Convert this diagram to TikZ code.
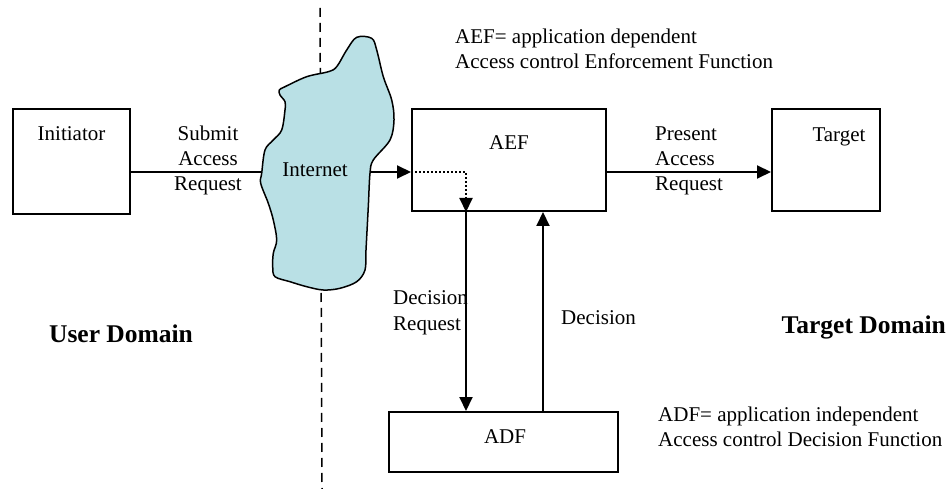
\documentclass[tikz,border=0pt]{standalone}
\usepackage{fontspec}
\setmainfont{Liberation Serif}
\usepackage{xcolor}
\usetikzlibrary{arrows.meta}

\definecolor{cloudblue}{RGB}{185,224,229}

\tikzset{
  box/.style={draw,line width=2pt,inner sep=0pt},
  lbl/.style={inner sep=0pt,font=\fontsize{21}{25}\selectfont},
  domlbl/.style={inner sep=0pt,font=\fontsize{25.5}{30}\selectfont\bfseries},
  flow/.style={line width=2pt,-{Triangle[length=14pt,width=13pt]}},
}

\begin{document}
\begin{tikzpicture}[x=1pt,y=-1pt]
\useasboundingbox (0,0) rectangle (948,489);

% domain border
\draw[line width=1.5pt,dash pattern=on 9pt off 6pt] (320,8) -- (322,489);

% the internet
\draw[line width=1.5pt,fill=cloudblue] plot[smooth cycle,tension=0.55] coordinates {
  (356.7,37.3) (371.7,38.3) (376.7,50) (383.3,76.7) (391.7,100) (394,120)
  (390,140) (373.3,160) (370,173.3) (368.3,206.7) (366,250) (365,270)
  (356.7,281.7) (340,288.3) (323.3,290) (306.7,286.7) (290,281.7) (275,276.7)
  (272.7,266.7) (273.3,253.3) (276.7,240) (273.3,220) (268.3,203.3) (260.7,183.3)
  (261.7,173.3) (265,150) (273.3,140) (281.7,130) (285,110) (285,101.7)
  (280,95) (279.3,90) (285,86.7) (306.7,76.7) (328.3,71.7) (336.7,66.7) (346.7,50)};
\coordinate (cl) at (262,172);
\coordinate (cr) at (370,172);
\node[lbl,anchor=base] (net) at (315,176.5) {Internet};

% boxes
\node[box,minimum width=117pt,minimum height=105pt] (init) at (71.5,161.5) {};
\node[box,minimum width=194pt,minimum height=102pt] (aef) at (509,160) {};
\node[box,minimum width=108pt,minimum height=102pt] (target) at (826,160) {};
\node[box,minimum width=229pt,minimum height=60pt] (adf) at (503.5,442) {};

\node[lbl,anchor=base] (inittext) at (71.5,141) {Initiator};
\node[lbl,anchor=base] (aeftext) at (509,150) {AEF};
\node[lbl,anchor=base] (targettext) at (839,141.5) {Target};
\node[lbl,anchor=base] (adftext) at (505,443) {ADF};

% connectors
\coordinate (dr) at (466,172);
\coordinate (dc) at (543,300);
\draw[line width=2pt] (init.east |- cl) -- (cl);
\draw[flow] (cr) -- (cr -| aef.west);
\draw[flow,dotted] (cr -| aef.west) -- (dr) -- (dr |- aef.south);
\draw[flow] (dr |- aef.south) -- (dr |- adf.north);
\draw[flow] (dc |- adf.north) -- (dc |- aef.south);
\draw[flow] (aef.east |- cr) -- (target.west |- cr);

% labels (base = last line)
\node[lbl,anchor=base,align=center] (submit) at (208,190.5) {Submit\\Access\\Request};
\node[lbl,anchor=base west,align=left] (present) at (655,190.5) {Present\\Access\\Request};
\node[lbl,anchor=base west,align=left] (decreq) at (393,330) {Decision\\Request};
\node[lbl,anchor=base west] (dec) at (561,324) {Decision};
\node[lbl,anchor=base west,align=left] (aefnote) at (455,69) {AEF= application dependent\\Access control Enforcement Function};
\node[lbl,anchor=base west,align=left] (adfnote) at (658,446) {ADF= application independent\\Access control Decision Function};
\node[domlbl,anchor=base] (user) at (121,342) {User Domain};
\node[domlbl,anchor=base east] (tdom) at (946,333) {Target Domain};
\end{tikzpicture}
\end{document}
